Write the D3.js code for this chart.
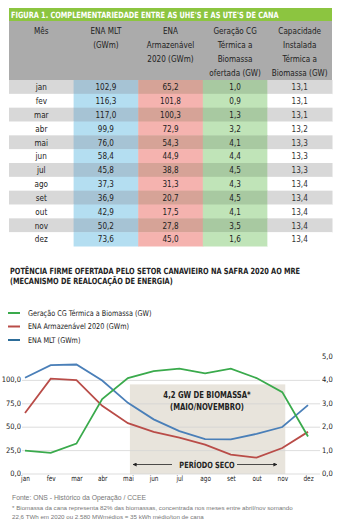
<!DOCTYPE html>
<html>
<head>
<meta charset="utf-8">
<script src="https://cdn.jsdelivr.net/npm/d3@7"></script>
<style>
  body { margin: 0; background: #fff; }
  svg { display: block; }
  text { font-family: "Liberation Sans Narrow", "DejaVu Sans Condensed", "Roboto Condensed", sans-serif; font-stretch: condensed; }
  .note { font-family: "Liberation Sans", Arial, sans-serif; font-stretch: normal; }
  .cc { transform-box: fill-box; transform-origin: center; transform: scaleX(0.85); }
  .cl { transform-box: fill-box; transform-origin: left; transform: scaleX(0.9); }
  .ct { transform-box: fill-box; transform-origin: left; transform: scaleX(0.85); }
</style>
</head>
<body>
<div class="chart"></div>
<script>
window.onload = function () {

const months = ["jan", "fev", "mar", "abr", "mai", "jun", "jul", "ago", "set", "out", "nov", "dez"];
const enaMlt = [102.9, 116.3, 117.0, 99.9, 76.0, 58.4, 45.8, 37.3, 36.9, 42.9, 50.2, 73.6];
const enaArm = [65.2, 101.8, 100.3, 72.9, 54.3, 44.9, 38.8, 31.3, 20.7, 17.5, 27.8, 45.0];
const geracao = [1.0, 0.9, 1.3, 3.2, 4.1, 4.4, 4.5, 4.3, 4.5, 4.1, 3.5, 1.6];
const capacidade = [13.1, 13.1, 13.1, 13.2, 13.3, 13.3, 13.3, 13.4, 13.4, 13.4, 13.4, 13.4];

const headers = [
  ["Mês"],
  ["ENA MLT", "(GWm)"],
  ["ENA", "Armazenável", "2020 (GWm)"],
  ["Geração CG", "Térmica a", "Biomassa", "ofertada (GW)"],
  ["Capacidade", "Instalada", "Térmica a", "Biomassa (GW)"]
];
const leftTicks = [0, 25, 50, 75, 100];
const rightTicks = [0, 1, 2, 3, 4, 5];

const pt = d3.formatLocale({ decimal: ",", thousands: ".", grouping: [3], currency: ["R$", ""] });
const fmt = pt.format(".1f");

const svg = d3.select(".chart")
  .append("svg")
  .attr("width", 337)
  .attr("height", 527)
  .attr("viewBox", "0 0 337 527");

// ---------- table ----------
const cols = d3.range(5);
const xCol = d3.scaleBand().domain(cols).range([9, 332]);
const yRow = d3.scaleBand().domain(months).range([80, 246]);

svg.append("rect")
  .attr("x", 9).attr("y", 8).attr("width", 323).attr("height", 13)
  .attr("fill", "#8cc540");
svg.append("text")
  .attr("class", "ct")
  .attr("x", 11).attr("y", 18)
  .attr("fill", "#fff")
  .style("font-size", "8.6px")
  .style("font-weight", "bold")
  .text("FIGURA 1. COMPLEMENTARIEDADE ENTRE AS UHE'S E AS UTE'S DE CANA");

svg.append("rect")
  .attr("x", 9).attr("y", 21).attr("width", 323).attr("height", 59)
  .attr("fill", "#ababab");

headers.forEach((lines, i) => {
  svg.append("text")
    .attr("class", "cc")
    .attr("x", xCol(i) + xCol.bandwidth() / 2)
    .attr("text-anchor", "middle")
    .attr("fill", "#222")
    .style("font-size", "9.5px")
    .selectAll("tspan")
    .data(lines)
    .enter()
    .append("tspan")
    .attr("x", xCol(i) + xCol.bandwidth() / 2)
    .attr("y", (d, j) => 34 + j * 14)
    .text(d => d);
});

const fills = [
  ["#ffffff", "#d8d8d8"],
  ["#b4def1", "#a6c3d4"],
  ["#f5b3af", "#d6a397"],
  ["#c0e4b8", "#a8c9a1"],
  ["#ffffff", "#d8d8d8"]
];
const tableCols = [months, enaMlt.map(fmt), enaArm.map(fmt), geracao.map(fmt), capacidade.map(fmt)];

const rows = svg.selectAll("g.row")
  .data(months)
  .enter()
  .append("g")
  .attr("class", "row")
  .attr("transform", d => `translate(0, ${yRow(d)})`);

rows.each(function (m, r) {
  const g = d3.select(this);
  cols.forEach(c => {
    g.append("rect")
      .attr("x", xCol(c))
      .attr("width", xCol.bandwidth() + 0.5)
      .attr("height", yRow.bandwidth() + 0.5)
      .attr("fill", fills[c][r % 2 === 0 ? 1 : 0]);
    g.append("text")
      .attr("class", "cc")
      .attr("x", xCol(c) + xCol.bandwidth() / 2)
      .attr("y", yRow.bandwidth() / 2)
      .attr("dy", "0.35em")
      .attr("text-anchor", "middle")
      .attr("fill", c === 4 ? "#333" : "#222")
      .style("font-size", "9.5px")
      .text(tableCols[c][r]);
  });
});

// ---------- chart ----------
svg.append("text")
  .attr("class", "ct")
  .attr("x", 10).attr("y", 274)
  .attr("fill", "#222")
  .style("font-size", "8.6px")
  .style("font-weight", "bold")
  .selectAll("tspan")
  .data(["POTÊNCIA FIRME OFERTADA PELO SETOR CANAVIEIRO NA SAFRA 2020 AO MRE", "(MECANISMO DE REALOCAÇÃO DE ENERGIA)"])
  .enter()
  .append("tspan")
  .attr("x", 10)
  .attr("y", (d, i) => 274 + i * 10)
  .text(d => d);

const x = d3.scalePoint().domain(months).range([25, 308]);
const yL = d3.scaleLinear().domain([0, 125]).range([474, 357]);
const yR = d3.scaleLinear().domain([0, 5]).range([474, 357]);

const colors = { mlt: "#4a7fb8", arm: "#b94c48", ger: "#3aaa4c" };

// legend
const legend = [
  { label: "Geração CG Térmica a Biomassa (GW)", color: colors.ger },
  { label: "ENA Armazenável 2020 (GWm)", color: colors.arm },
  { label: "ENA MLT (GWm)", color: "#2d6d99" }
];
const lg = svg.selectAll("g.legend")
  .data(legend)
  .enter()
  .append("g")
  .attr("class", "legend")
  .attr("transform", (d, i) => `translate(0, ${313 + i * 13.5})`);
lg.append("line")
  .attr("x1", 8).attr("x2", 20)
  .attr("stroke", d => d.color)
  .attr("stroke-width", 2);
lg.append("text")
  .attr("class", "cl")
  .attr("x", 28).attr("dy", "0.35em")
  .attr("fill", "#222")
  .style("font-size", "8px")
  .text(d => d.label);

// shaded box
svg.append("rect")
  .attr("x", x("mai") + 2)
  .attr("y", yR(3.83))
  .attr("width", x("nov") - x("mai") + 1)
  .attr("height", yR(0) - yR(3.83))
  .attr("fill", "#e8e4dc");

// grid
svg.append("g")
  .selectAll("line")
  .data(rightTicks.filter(d => d < 5))
  .enter()
  .append("line")
  .attr("x1", 22).attr("x2", 320)
  .attr("y1", d => yR(d)).attr("y2", d => yR(d))
  .attr("stroke", "#d4d4d4")
  .attr("stroke-width", 0.8);

// axes
const axisL = svg.append("g")
  .attr("transform", "translate(22,0)")
  .call(d3.axisLeft(yL).tickValues(leftTicks).tickFormat(fmt).tickSize(0).tickPadding(1));
const axisR = svg.append("g")
  .attr("transform", "translate(320,0)")
  .call(d3.axisRight(yR).tickValues(rightTicks).tickFormat(fmt).tickSize(0).tickPadding(2));
const axisB = svg.append("g")
  .attr("transform", "translate(0,474)")
  .call(d3.axisBottom(x).tickSize(0).tickPadding(2));
[axisL, axisR, axisB].forEach(a => {
  a.select(".domain").remove();
  a.selectAll("text")
    .attr("fill", "#222")
    .style("font-size", "7.5px")
    .style("font-family", "\"Liberation Sans Narrow\", \"DejaVu Sans Condensed\", sans-serif");
});
axisL.selectAll("text").attr("dy", "0.2em");
axisR.selectAll("text").attr("dy", "0.2em");
axisB.selectAll("text").attr("class", "cc");

// box labels
svg.append("text")
  .attr("class", "cc")
  .attr("text-anchor", "middle")
  .attr("fill", "#222")
  .style("font-size", "9px")
  .style("font-weight", "bold")
  .selectAll("tspan")
  .data(["4,2 GW DE BIOMASSA*", "(MAIO/NOVEMBRO)"])
  .enter()
  .append("tspan")
  .attr("x", 207)
  .attr("y", (d, i) => 398 + i * 12)
  .text(d => d);

svg.append("text")
  .attr("class", "cc")
  .attr("x", 207).attr("y", 468)
  .attr("text-anchor", "middle")
  .attr("fill", "#222")
  .style("font-size", "8.6px")
  .style("font-weight", "bold")
  .text("PERÍODO SECO");

svg.append("defs").append("marker")
  .attr("id", "arrow")
  .attr("viewBox", "0 0 10 10")
  .attr("refX", 9).attr("refY", 5)
  .attr("markerWidth", 5).attr("markerHeight", 5)
  .attr("orient", "auto-start-reverse")
  .append("path")
  .attr("d", "M0,0 L10,5 L0,10 Z")
  .attr("fill", "#222");

svg.append("line")
  .attr("x1", 172).attr("x2", 133).attr("y1", 464.5).attr("y2", 464.5)
  .attr("stroke", "#222").attr("stroke-width", 0.8)
  .attr("marker-end", "url(#arrow)");
svg.append("line")
  .attr("x1", 237).attr("x2", 277).attr("y1", 464.5).attr("y2", 464.5)
  .attr("stroke", "#222").attr("stroke-width", 0.8)
  .attr("marker-end", "url(#arrow)");

// lines
const lineL = d3.line().x((d, i) => x(months[i])).y(d => yL(d));
const lineR = d3.line().x((d, i) => x(months[i])).y(d => yR(d));

svg.append("path").datum(enaMlt)
  .attr("d", lineL).attr("fill", "none")
  .attr("stroke", colors.mlt).attr("stroke-width", 1.8);
svg.append("path").datum(enaArm)
  .attr("d", lineL).attr("fill", "none")
  .attr("stroke", colors.arm).attr("stroke-width", 1.8);
svg.append("path").datum(geracao)
  .attr("d", lineR).attr("fill", "none")
  .attr("stroke", colors.ger).attr("stroke-width", 1.8);

// notes
const notes = [
  { t: "Fonte: ONS - Histórico da Operação / CCEE", y: 500 },
  { t: "* Biomassa da cana representa 82% das biomassas, concentrada nos meses entre abril/nov somando", y: 510 },
  { t: "22,6 TWh em 2020 ou 2.580 MWmédios = 35 kWh médio/ton de cana", y: 518.5 }
];
svg.selectAll("text.note")
  .data(notes)
  .enter()
  .append("text")
  .attr("class", "note")
  .attr("x", 12)
  .attr("y", d => d.y)
  .attr("fill", "#777")
  .style("font-size", d => d.y === 500 ? "6.8px" : "6.2px")
  .text(d => d.t);

};
</script>
</body>
</html>
